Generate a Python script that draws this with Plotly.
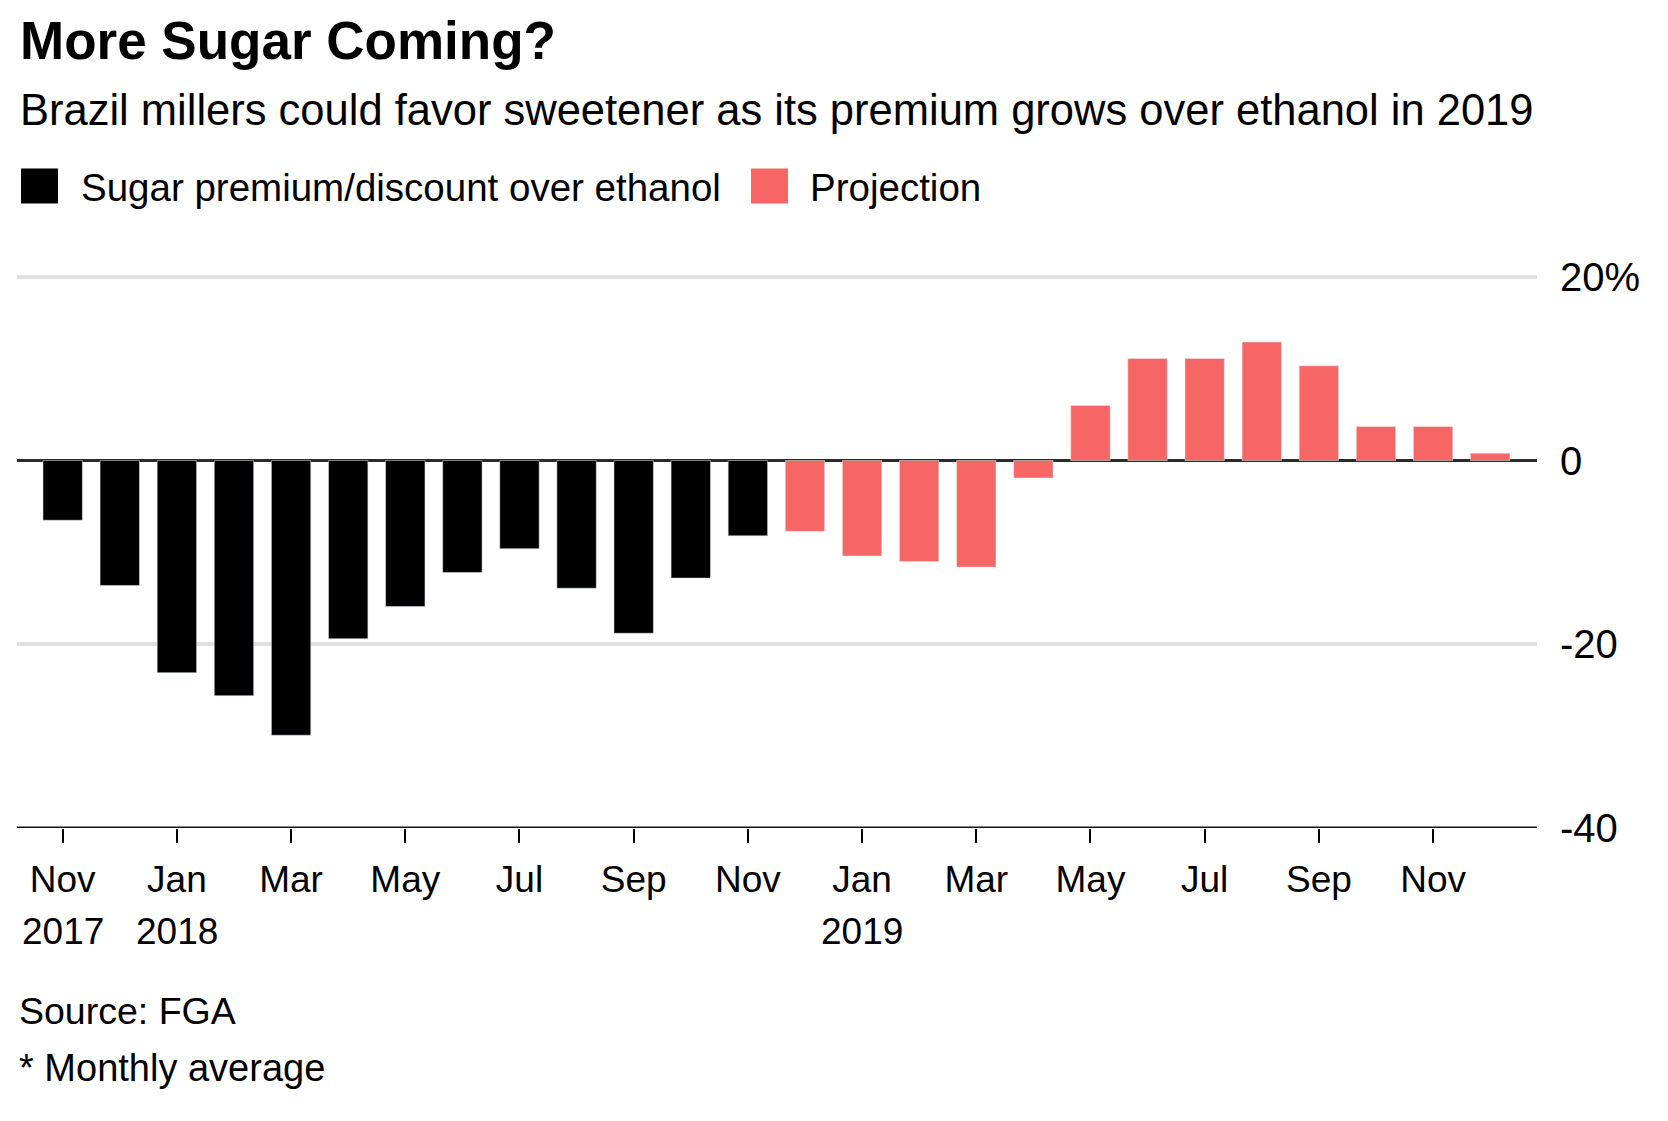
import plotly.graph_objects as go

# monthly sugar premium/discount over ethanol, %
actual_months = ['2017-11', '2017-12', '2018-01', '2018-02', '2018-03', '2018-04', '2018-05',
                 '2018-06', '2018-07', '2018-08', '2018-09', '2018-10', '2018-11']
actual_values = [-6.5, -13.6, -23.1, -25.6, -29.9, -19.4, -15.9, -12.2, -9.6, -13.9, -18.8, -12.8, -8.2]

proj_months = ['2018-12', '2019-01', '2019-02', '2019-03', '2019-04', '2019-05', '2019-06',
               '2019-07', '2019-08', '2019-09', '2019-10', '2019-11', '2019-12']
proj_values = [-7.7, -10.4, -11.0, -11.6, -1.9, 6.0, 11.1, 11.1, 12.9, 10.3, 3.7, 3.7, 0.8]

tick_months = ['2017-11', '2018-01', '2018-03', '2018-05', '2018-07', '2018-09', '2018-11',
               '2019-01', '2019-03', '2019-05', '2019-07', '2019-09', '2019-11']
tick_text = ['Nov', 'Jan', 'Mar', 'May', 'Jul', 'Sep', 'Nov',
             'Jan', 'Mar', 'May', 'Jul', 'Sep', 'Nov']
year_months = ['2017-11', '2018-01', '2019-01']
year_text = ['2017', '2018', '2019']

y_ticks = [-40, -20, 0, 20]
y_text = ['-40', '-20', '0', '20%']

BLACK = '#000000'
RED = '#F56664'
FONT = 'Liberation Sans'

all_months = actual_months + proj_months

# plot area in page pixels (page has an 8px body margin)
L, R, T, B = 17, 1537, 277, 828
W, H = R - L, B - T

fig = go.Figure()
fig.add_trace(go.Bar(x=actual_months, y=actual_values, marker_color=BLACK,
                     name='Sugar premium/discount over ethanol', width=0.69))
fig.add_trace(go.Bar(x=proj_months, y=proj_values, marker_color=RED,
                     name='Projection', width=0.69))

fig.update_layout(
    width=1668, height=1121,
    margin=dict(l=L - 8, r=1668 - R + 8, t=T - 8 - 3, b=1121 - B + 8),
    paper_bgcolor='white', plot_bgcolor='white',
    showlegend=False,
    font=dict(family=FONT, color='black', size=37),
)

fig.update_xaxes(
    type='category', categoryorder='array', categoryarray=all_months,
    range=[-0.8, len(all_months) - 0.18],
    tickvals=tick_months, ticktext=tick_text,
    ticks='outside', ticklen=14, tickwidth=2, tickcolor='black',
    ticklabelstandoff=5,
    showgrid=False, showline=False, zeroline=False,
    tickfont=dict(size=37, family=FONT),
)
fig.update_yaxes(
    side='right', range=[-40, 20.3],
    tickvals=y_ticks, ticktext=y_text,
    showgrid=True, gridcolor='#e0e0e0', gridwidth=4,
    zeroline=True, zerolinecolor='#2a2a2a', zerolinewidth=3,
    showline=False, ticks='', ticklabelstandoff=22,
    tickfont=dict(size=40, family=FONT),
)

# bottom axis line at -40
fig.add_hline(y=-40, line_color='#111111', line_width=3, layer='above')

# legend drawn by hand so the swatches can be large
def px(xp):
    return (xp - L) / W

def py(yp):
    return (B - yp) / H

fig.add_shape(type='rect', xref='paper', yref='paper', x0=px(21), x1=px(58),
              y0=py(172), y1=py(207), fillcolor=BLACK, line_width=0)
fig.add_shape(type='rect', xref='paper', yref='paper', x0=px(751), x1=px(788),
              y0=py(172), y1=py(207), fillcolor=RED, line_width=0)

annos = [
    dict(text='<b>More Sugar Coming?</b>', x=px(18), y=py(45), size=53),
    dict(text='Brazil millers could favor sweetener as its premium grows over ethanol in 2019',
         x=px(18), y=py(114), size=43.5),
    dict(text='Sugar premium/discount over ethanol', x=px(79), y=py(191), size=38.5),
    dict(text='Projection', x=px(808), y=py(191), size=38.5),
    dict(text='Source: FGA', x=px(17), y=py(1010), size=37.5),
    dict(text='* Monthly average', x=px(17), y=py(1067), size=38),
]
for a in annos:
    fig.add_annotation(text=a['text'], x=a['x'], y=a['y'], xref='paper', yref='paper',
                       xanchor='left', yanchor='middle', showarrow=False,
                       font=dict(size=a['size'], family=FONT, color='black'))

for m, t in zip(year_months, year_text):
    fig.add_annotation(text=t, x=m, xref='x', y=py(931), yref='paper',
                       xanchor='center', yanchor='middle', showarrow=False,
                       font=dict(size=37, family=FONT, color='black'))

fig.write_html('out.html')
